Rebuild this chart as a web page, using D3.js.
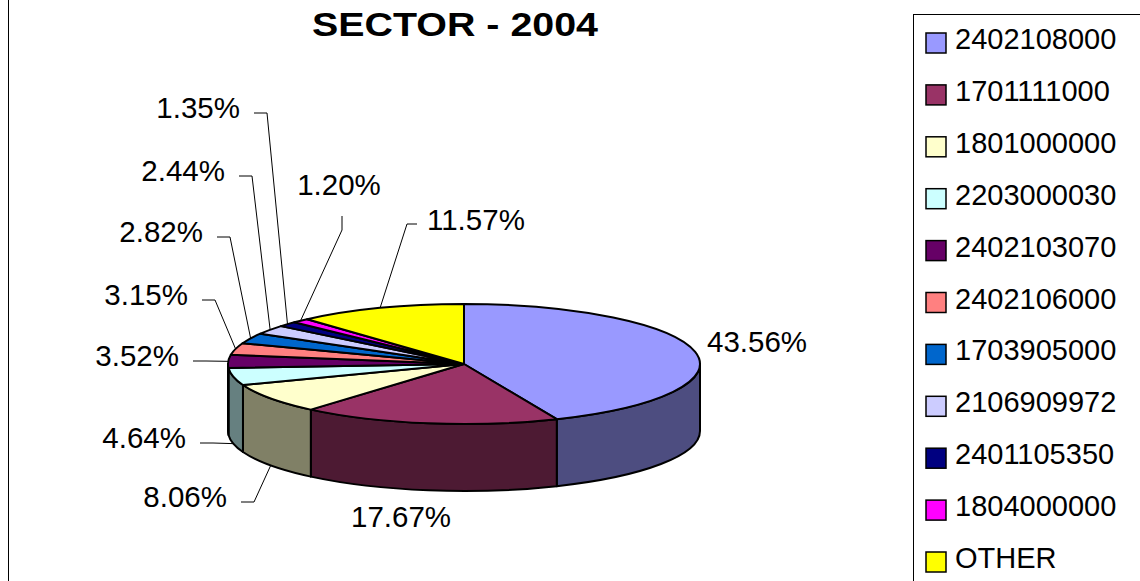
<!DOCTYPE html>
<html lang="en">
<head>
<meta charset="UTF-8">
<title>SECTOR - 2004</title>
<script src="https://d3js.org/d3.v7.min.js" type="text/javascript"></script>
<style>
    body { margin: 0; background: #fff; }
    text { font-family: "Liberation Sans", Arial, sans-serif; fill: #000; }
</style>
</head>
<body>
<script>
    // chart data
    var categories = ['2402108000', '1701111000', '1801000000', '2203000030', '2402103070',
        '2402106000', '1703905000', '2106909972', '2401105350', '1804000000', 'OTHER'];
    var shares = [43.56, 17.67, 8.06, 4.64, 3.52, 3.15, 2.82, 2.44, 1.35, 1.20, 11.57];
    var colors = ['#9999FF', '#993366', '#FFFFCC', '#CCFFFF', '#660066',
        '#FF8080', '#0066CC', '#CCCCFF', '#000080', '#FF00FF', '#FFFF00'];

    // label placement (text position + where the leader leaves the text)
    var labelLayout = [
        {x: 707, y: 352, anchor: 'start', leader: null},
        {x: 401, y: 527, anchor: 'middle', leader: null},
        {x: 227, y: 507, anchor: 'end', leader: 'left'},
        {x: 186, y: 448, anchor: 'end', leader: 'left'},
        {x: 179, y: 366, anchor: 'end', leader: 'left'},
        {x: 188, y: 305, anchor: 'end', leader: 'left'},
        {x: 203, y: 242, anchor: 'end', leader: 'left'},
        {x: 225, y: 181, anchor: 'end', leader: 'left'},
        {x: 240, y: 118, anchor: 'end', leader: 'left'},
        {x: 339, y: 195, anchor: 'middle', leader: 'below'},
        {x: 427, y: 230, anchor: 'start', leader: 'right'}
    ];

    var width = 1140, height = 581;
    var cx = 464, cy = 364, rx = 236, ry = 60, depth = 67;

    var svg = d3.select('body').append('svg')
        .attr('width', width).attr('height', height);

    // chart area border
    svg.append('rect')
        .attr('x', 8.5).attr('y', -5).attr('width', 1200).attr('height', 700)
        .attr('fill', 'none').attr('stroke', '#000').attr('stroke-width', 1);

    // title
    svg.append('text')
        .attr('x', 455).attr('y', 36)
        .attr('text-anchor', 'middle')
        .attr('font-size', 34).attr('font-weight', 'bold')
        .attr('textLength', 286).attr('lengthAdjust', 'spacingAndGlyphs')
        .text('SECTOR - 2004');

    var pie = d3.pie().sort(null).value(function (d) { return d; });
    var arcs = pie(shares);

    function pt(a, dy) {
        return [cx + rx * Math.sin(a), cy - ry * Math.cos(a) + dy];
    }

    function darker(c) {
        var rgb = d3.rgb(c);
        return d3.rgb(rgb.r / 2, rgb.g / 2, rgb.b / 2).formatHex();
    }

    // sides (front half only)
    var sides = svg.append('g');
    arcs.forEach(function (d, i) {
        var a0 = Math.max(d.startAngle, Math.PI / 2);
        var a1 = Math.min(d.endAngle, Math.PI * 3 / 2);
        if (a1 <= a0) return;
        var p0 = pt(a0, 0), p1 = pt(a1, 0), q1 = pt(a1, depth), q0 = pt(a0, depth);
        var path = 'M' + p0 + 'A' + rx + ',' + ry + ',0,0,1,' + p1 +
            'L' + q1 + 'A' + rx + ',' + ry + ',0,0,0,' + q0 + 'Z';
        sides.append('path')
            .attr('d', path)
            .attr('fill', darker(colors[i]))
            .attr('stroke', '#000').attr('stroke-width', 2)
            .attr('stroke-linejoin', 'round');
    });

    // top faces
    var arc = d3.arc().innerRadius(0).outerRadius(rx);
    svg.append('g')
        .attr('transform', 'translate(' + cx + ',' + cy + ') scale(1,' + (ry / rx) + ')')
        .selectAll('path')
        .data(arcs)
        .join('path')
        .attr('d', arc)
        .attr('fill', function (d, i) { return colors[i]; })
        .attr('stroke', '#000').attr('stroke-width', 2)
        .attr('stroke-linejoin', 'round')
        .attr('vector-effect', 'non-scaling-stroke');

    // labels + leader lines
    var labels = svg.append('g');
    arcs.forEach(function (d, i) {
        var L = labelLayout[i];
        labels.append('text')
            .attr('x', L.x).attr('y', L.y)
            .attr('text-anchor', L.anchor)
            .attr('font-size', 29.5)
            .text(d.data.toFixed(2) + '%');
        if (!L.leader) return;
        var mid = (d.startAngle + d.endAngle) / 2;
        var front = Math.cos(mid) < -0.05;
        var target = pt(mid, front ? depth : 0);
        var pts;
        if (L.leader === 'left') {
            pts = [[L.x + 14, L.y - 5], [L.x + 27, L.y - 5], target];
        } else if (L.leader === 'right') {
            pts = [[L.x - 10, L.y - 6], [L.x - 20, L.y - 6], target];
        } else {
            pts = [[L.x + 3, L.y + 21], [L.x + 3, L.y + 35], target];
        }
        labels.append('path')
            .attr('d', d3.line()(pts))
            .attr('fill', 'none')
            .attr('stroke', '#000').attr('stroke-width', 1);
    });

    // legend
    var legend = svg.append('g');
    legend.append('rect')
        .attr('x', 913.5).attr('y', 14.5).attr('width', 300).attr('height', 700)
        .attr('fill', '#fff').attr('stroke', '#000').attr('stroke-width', 1);
    var rowY = d3.scalePoint().domain(categories).range([43, 562]);
    var item = legend.selectAll('g.item')
        .data(categories)
        .join('g')
        .attr('class', 'item')
        .attr('transform', function (d) { return 'translate(0,' + rowY(d) + ')'; });
    item.append('rect')
        .attr('x', 926).attr('y', -10).attr('width', 20).attr('height', 20)
        .attr('fill', function (d, i) { return colors[i]; })
        .attr('stroke', '#000').attr('stroke-width', 1.5);
    item.append('text')
        .attr('x', 955).attr('y', 6)
        .attr('font-size', 29)
        .text(function (d) { return d; });
</script>
</body>
</html>
